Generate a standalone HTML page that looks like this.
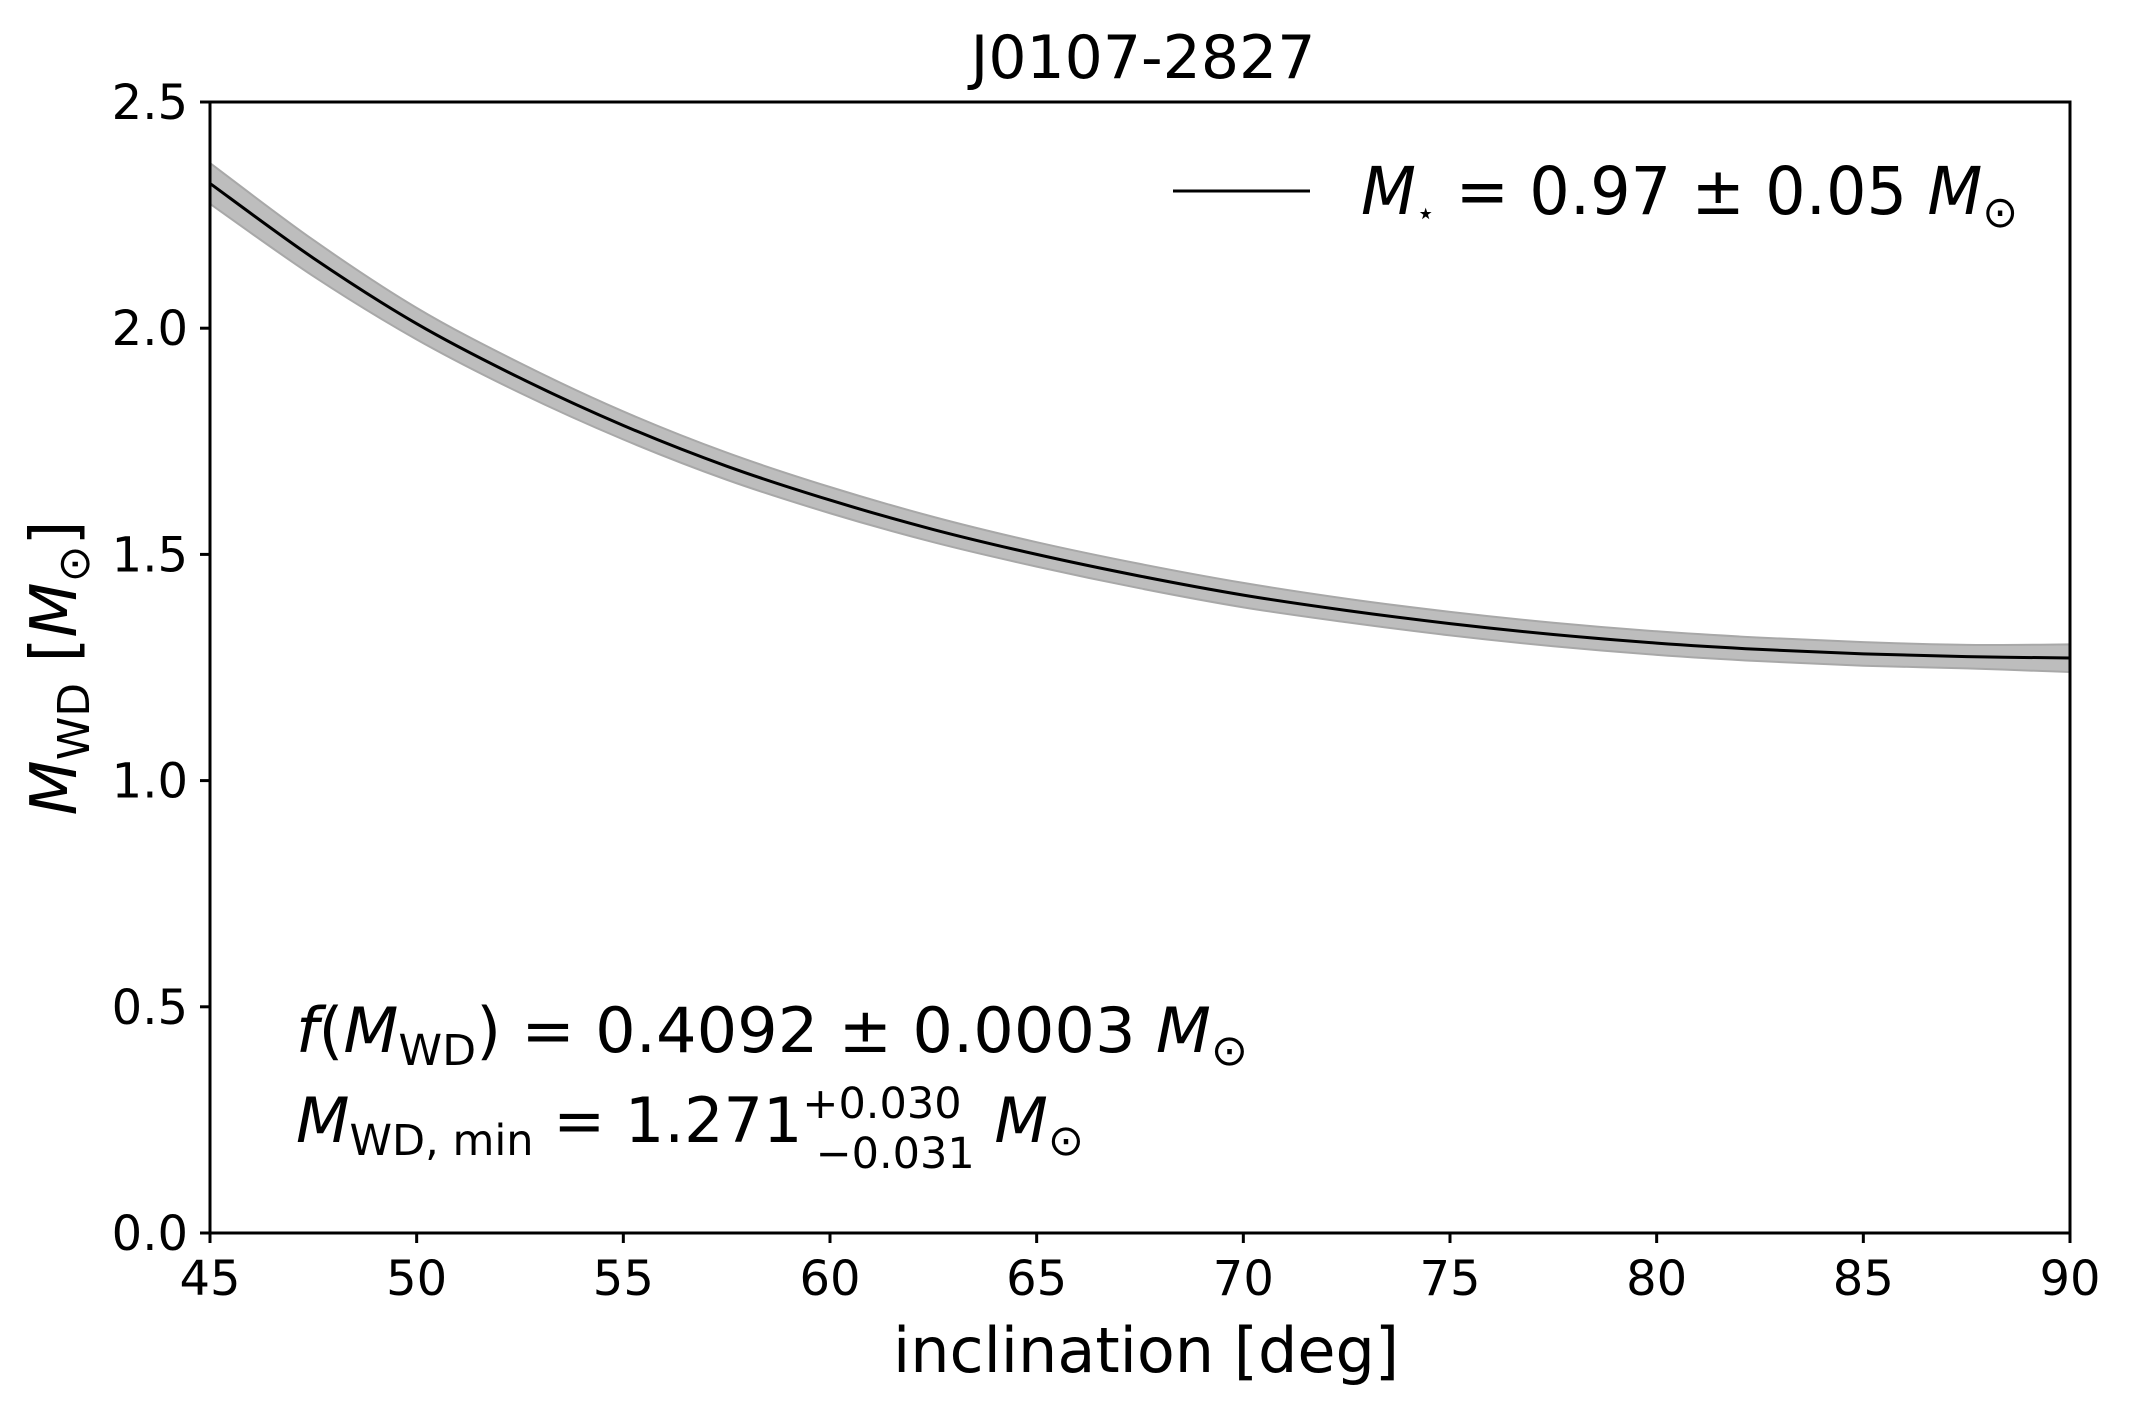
<!DOCTYPE html>
<html><head><meta charset="utf-8"><style>
html,body{margin:0;padding:0;background:#fff;}
svg{display:block;font-family:"DejaVu Sans","Liberation Sans",sans-serif;}
</style></head><body>
<svg id="chart" width="2132" height="1415" viewBox="0 0 2132 1415" xmlns="http://www.w3.org/2000/svg">
<rect width="2132" height="1415" fill="#fff"/>
<g id="plot"></g>
<text x="1143" y="78" font-size="60" text-anchor="middle">J0107-2827</text>
<text x="1146" y="1372" font-size="62" text-anchor="middle">inclination [deg]</text>
<text transform="translate(76,668) rotate(-90)" font-size="64" text-anchor="middle"><tspan font-style="italic">M</tspan><tspan font-size="44" dy="13">WD</tspan><tspan dy="-13"> [</tspan><tspan font-style="italic">M</tspan><tspan font-size="44" dy="13">⊙</tspan><tspan dy="-13">]</tspan></text>
<g>
<line x1="1173" y1="191" x2="1310" y2="191" stroke="#000" stroke-width="3"/>
<text x="1361" y="214" font-size="66" textLength="657" lengthAdjust="spacingAndGlyphs"><tspan font-style="italic">M</tspan><tspan font-size="32" dy="10">⋆</tspan><tspan dy="-10"> = 0.97 ± 0.05 </tspan><tspan font-style="italic">M</tspan><tspan font-size="44" dy="13">⊙</tspan></text>
</g>
<text x="296" y="1052" font-size="62" textLength="952" lengthAdjust="spacingAndGlyphs"><tspan font-style="italic">f</tspan>(<tspan font-style="italic">M</tspan><tspan font-size="43" dy="13">WD</tspan><tspan dy="-13">) = 0.4092 ± 0.0003 </tspan><tspan font-style="italic">M</tspan><tspan font-size="43" dy="13">⊙</tspan></text>
<text x="296" y="1142" font-size="62"><tspan font-style="italic">M</tspan><tspan font-size="43" dy="13">WD, min</tspan><tspan dy="-13"> = 1.271</tspan><tspan font-size="43" dy="-24">+0.030</tspan><tspan font-size="43" dx="-146" dy="50">−0.031</tspan><tspan dy="-26"> </tspan><tspan font-style="italic">M</tspan><tspan font-size="43" dy="13">⊙</tspan></text>
</svg>
<script>
const incl = [45,47.5,50,52.5,55,57.5,60,62.5,65,67.5,70,72.5,75,77.5,80,82.5,85,87.5,90];
const mass = [2.32,2.155,2.01,1.89,1.785,1.695,1.62,1.555,1.50,1.452,1.41,1.376,1.347,1.323,1.304,1.29,1.280,1.274,1.271];
const massLo = [2.275,2.115,1.975,1.857,1.754,1.665,1.591,1.527,1.473,1.425,1.383,1.350,1.321,1.297,1.278,1.264,1.254,1.248,1.240];
const massHi = [2.365,2.195,2.045,1.923,1.816,1.725,1.649,1.583,1.527,1.479,1.437,1.402,1.373,1.349,1.330,1.316,1.306,1.300,1.301];
const xTicks = [45,50,55,60,65,70,75,80,85,90];
const yTicks = [0.0,0.5,1.0,1.5,2.0,2.5];
const L=210,R=2070,T=102,B=1233;
const X=v=>L+(v-45)/(90-45)*(R-L);
const Y=v=>B-(v-0)/(2.5-0)*(B-T);
const NS='http://www.w3.org/2000/svg';
const g=document.getElementById('plot');
function mk(tag,attrs){const e=document.createElementNS(NS,tag);for(const k in attrs)e.setAttribute(k,attrs[k]);g.appendChild(e);return e;}
function smooth(xs,ys){
  const p=xs.map((x,i)=>[X(x),Y(ys[i])]);let d='M'+p[0][0]+','+p[0][1];
  for(let i=0;i<p.length-1;i++){const p0=p[Math.max(0,i-1)],p1=p[i],p2=p[i+1],p3=p[Math.min(p.length-1,i+2)];
    d+=' C'+(p1[0]+(p2[0]-p0[0])/6)+','+(p1[1]+(p2[1]-p0[1])/6)+' '+(p2[0]-(p3[0]-p1[0])/6)+','+(p2[1]-(p3[1]-p1[1])/6)+' '+p2[0]+','+p2[1];}
  return d;}
let up=smooth(incl,massHi);
let lo=smooth(incl.slice().reverse(),massLo.slice().reverse());
const band=mk('path',{d:up+' L'+lo.slice(1)+' Z',fill:'#bdbdbd',stroke:'#a8a8a8','stroke-width':2});


const line=mk('path',{d:smooth(incl,mass),fill:'none',stroke:'#000','stroke-width':3});


const frame=mk('rect',{x:L,y:T,width:R-L,height:B-T,fill:'none',stroke:'#000','stroke-width':3});


xTicks.forEach(t=>{
  const tk=mk('line',{x1:X(t),x2:X(t),y1:B,y2:B+10,stroke:'#000','stroke-width':3});
  
  
  const lb=mk('text',{x:X(t),y:B+62,'font-size':48,'text-anchor':'middle'});lb.textContent=t;
  
  
});
yTicks.forEach(t=>{
  const tk=mk('line',{x1:L-10,x2:L,y1:Y(t),y2:Y(t),stroke:'#000','stroke-width':3});
  
  
  const lb=mk('text',{x:L-22,y:Y(t)+17,'font-size':48,'text-anchor':'end'});lb.textContent=t.toFixed(1);
  
  
});
</script>
</body></html>
